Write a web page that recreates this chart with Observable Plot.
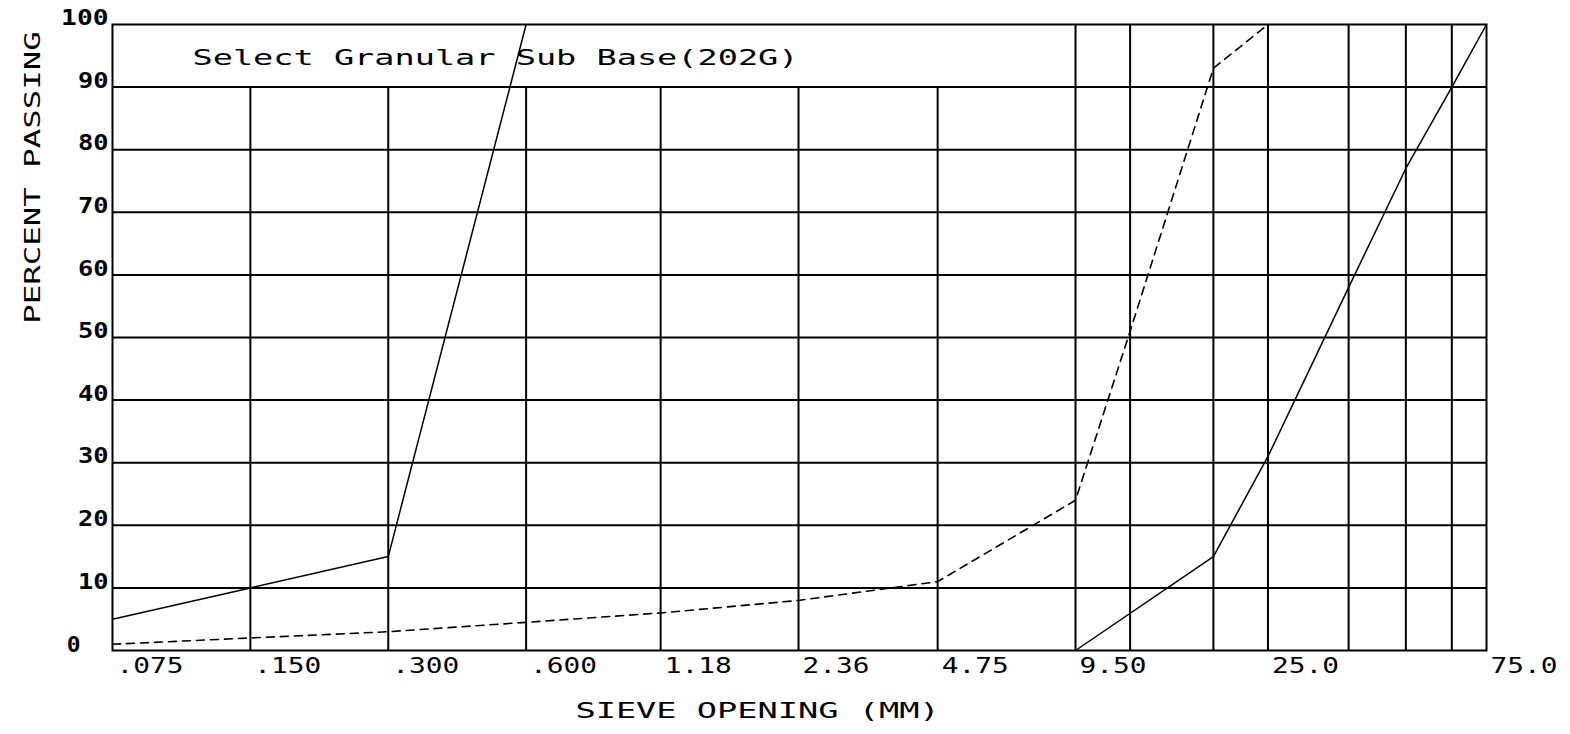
<!DOCTYPE html>
<html><head><meta charset="utf-8">
<script src="https://cdn.jsdelivr.net/npm/d3@7"></script>
<script src="https://cdn.jsdelivr.net/npm/@observablehq/plot@0.6"></script>
<style>
body{margin:0;background:#fff}
svg{display:block}
</style>
</head><body><div id="chart"></div>
<script>
// Tick labels on the sieve axis (mm)
const sieveTicks = [0.075, 0.15, 0.3, 0.6, 1.18, 2.36, 4.75, 9.5, 25, 75];
const sieveTickLabels = [".075", ".150", ".300", ".600", "1.18", "2.36", "4.75", "9.50", "25.0", "75.0"];
// Vertical grid sieves: fine ones stop at 90 %, coarse ones reach 100 %
const gridFine = [0.15, 0.3, 0.6, 1.18, 2.36, 4.75];
const gridCoarse = [9.5, 12.5, 19, 25, 37.5, 50, 63];
const percentTicks = [0, 10, 20, 30, 40, 50, 60, 70, 80, 90, 100];
const gridPercent = [10, 20, 30, 40, 50, 60, 70, 80, 90];

// Curve 1 (solid, fine side)
const fineSieves = [0.075, 0.15, 0.3, 0.6];
const finePassing = [5, 10, 15, 100];
// Curve 2 (dashed)
const dashSieves = [0.075, 0.15, 0.3, 0.6, 1.18, 2.36, 4.75, 9.5, 12.5, 19, 25];
const dashPassing = [1, 2, 3, 4.5, 6, 8, 11, 24, 51, 93, 100];
// Curve 3 (solid, coarse side)
const coarseSieves = [9.5, 19, 25, 37.5, 50, 63, 75];
const coarsePassing = [0, 15, 31, 58, 77, 90, 100];

const title = "Select Granular Sub Base(202G)";
const xTitle = "SIEVE OPENING (MM)";
const yTitle = "PERCENT PASSING";

const fine = fineSieves.map((s, i) => ({s, p: finePassing[i]}));
const dash = dashSieves.map((s, i) => ({s, p: dashPassing[i]}));
const coarse = coarseSieves.map((s, i) => ({s, p: coarsePassing[i]}));
const xticks = sieveTicks.map((s, i) => ({s, label: sieveTickLabels[i]}));

const font = "DejaVu Sans Mono";
const fs = 21;

const chart = Plot.plot({
  width: 1570,
  height: 734,
  marginTop: 24,
  marginRight: 84,
  marginBottom: 84,
  marginLeft: 112,
  style: {background: "#fff", color: "#000", fontFamily: font},
  x: {type: "log", domain: [0.075, 75], axis: null},
  y: {domain: [0, 100], axis: null},
  marks: [
    Plot.ruleY(gridPercent, {y: d => d, stroke: "#000", strokeWidth: 2}),
    Plot.ruleX(gridFine, {x: d => d, y1: 0, y2: 90, stroke: "#000", strokeWidth: 2}),
    Plot.ruleX(gridCoarse, {x: d => d, y1: 0, y2: 100, stroke: "#000", strokeWidth: 2}),
    Plot.frame({stroke: "#000", strokeWidth: 2}),
    Plot.line(fine, {x: "s", y: "p", stroke: "#000", strokeWidth: 1.5}),
    Plot.line(dash, {x: "s", y: "p", stroke: "#000", strokeWidth: 1.6, strokeDasharray: "8,6"}),
    Plot.line(coarse, {x: "s", y: "p", stroke: "#000", strokeWidth: 1.5}),
    Plot.text(percentTicks.filter(d => d > 0), {y: d => d, frameAnchor: "left", textAnchor: "end", dx: -4, dy: -6, text: d => String(d), fontSize: fs, fontWeight: "bold", fill: "#000"}),
    Plot.text(percentTicks.filter(d => d === 0), {y: d => d, frameAnchor: "left", textAnchor: "end", dx: -32, dy: -5, text: d => String(d), fontSize: fs, fontWeight: "bold", fill: "#000"}),
    Plot.text(xticks, {x: "s", frameAnchor: "bottom", textAnchor: "start", dx: 4, dy: 22, text: "label", fontSize: fs, fill: "#000"}),
    Plot.text([title], {frameAnchor: "top-left", textAnchor: "start", dx: 80, dy: 26, text: d => d, fontSize: fs, fill: "#000"}),
    Plot.text([xTitle], {frameAnchor: "bottom-left", textAnchor: "middle", dx: 645, dy: 67, text: d => d, fontSize: fs, fill: "#000"}),
    Plot.text([yTitle], {frameAnchor: "top-left", textAnchor: "middle", rotate: -90, dx: -87, dy: 153, text: d => d, fontSize: fs, fill: "#000"})
  ]
});
document.getElementById("chart").append(chart);

// Wide bitmap-like glyphs: stretch each label to the per-character advance of the original font
const advance = new Map([[title, 20.3], [xTitle, 20.4], [yTitle, 19.7]]);
const yTickSet = new Set(percentTicks.map(String));
d3.select(chart).selectAll("text").each(function () {
  const t = this.textContent;
  const a = advance.has(t) ? advance.get(t) : yTickSet.has(t) ? 16.8 : 17.5;
  this.setAttribute("textLength", (t.length * a - 3).toFixed(1));
  this.setAttribute("lengthAdjust", "spacingAndGlyphs");
});
</script>
</body></html>
